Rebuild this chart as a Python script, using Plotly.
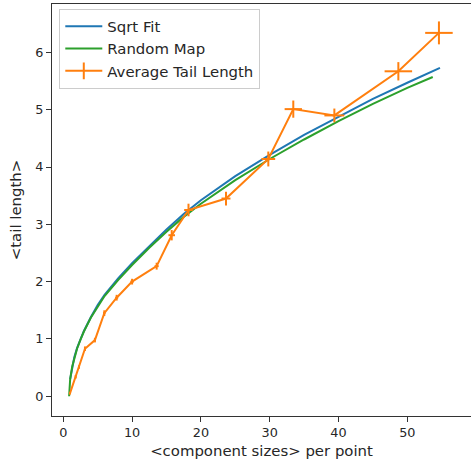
import plotly.graph_objects as go

# Sqrt fit curve
fit_x = [1.0, 1.3, 1.6, 2, 2.5, 3, 4, 5, 6, 8, 10, 12.5, 15, 17.5, 20, 25, 30, 35, 40, 45, 50, 54.75]
fit_y = [0.30, 0.52, 0.68, 0.84, 1.00, 1.14, 1.38, 1.59, 1.77, 2.06, 2.32, 2.62, 2.91, 3.18, 3.42, 3.84, 4.21, 4.56, 4.88, 5.19, 5.47, 5.73]

# Random map curve
rand_x = [0.85, 0.9, 1.0, 1.3, 1.6, 2, 2.5, 3, 4, 5, 6, 8, 10, 12.5, 15, 17.5, 20, 25, 30, 35, 40, 45, 50, 53.7]
rand_y = [0.0, 0.17, 0.30, 0.52, 0.67, 0.83, 0.99, 1.13, 1.37, 1.57, 1.75, 2.03, 2.29, 2.59, 2.87, 3.13, 3.36, 3.77, 4.14, 4.48, 4.80, 5.10, 5.38, 5.57]

# Average tail length with error bars
avg_x = [0.97, 1.8, 2.28, 3.15, 4.6, 5.96, 7.76, 10.0, 13.57, 15.76, 18.2, 23.65, 29.8, 33.43, 39.4, 48.7, 54.6]
avg_y = [0.05, 0.34, 0.51, 0.83, 0.98, 1.45, 1.72, 2.0, 2.27, 2.81, 3.25, 3.45, 4.14, 5.01, 4.90, 5.67, 6.34]
avg_xerr = [0.05, 0.08, 0.1, 0.12, 0.15, 0.18, 0.22, 0.25, 0.3, 0.48, 0.63, 0.65, 1.0, 1.26, 1.45, 2.0, 2.0]
avg_yerr = [0.02, 0.03, 0.03, 0.04, 0.04, 0.05, 0.05, 0.05, 0.06, 0.09, 0.11, 0.12, 0.13, 0.15, 0.12, 0.16, 0.20]

BLUE = "#1f77b4"
GREEN = "#2ca02c"
ORANGE = "#ff7f0e"
FONT = "DejaVu Sans"
TICK_SIZE = 12.8
LABEL_SIZE = 14.9

fig = go.Figure()
fig.add_trace(go.Scatter(x=fit_x, y=fit_y, mode="lines", name="Sqrt Fit",
                         line=dict(color=BLUE, width=2)))
fig.add_trace(go.Scatter(x=rand_x, y=rand_y, mode="lines", name="Random Map",
                         line=dict(color=GREEN, width=2)))
fig.add_trace(go.Scatter(x=avg_x, y=avg_y, mode="lines", name="Average Tail Length",
                         showlegend=False,
                         line=dict(color=ORANGE, width=2),
                         error_x=dict(type="data", array=avg_xerr, color=ORANGE, thickness=2, width=0),
                         error_y=dict(type="data", array=avg_yerr, color=ORANGE, thickness=2, width=0)))
fig.add_trace(go.Scatter(x=[None], y=[None], mode="lines+markers", name="Average Tail Length",
                         line=dict(color=ORANGE, width=2),
                         marker=dict(symbol="line-ns", size=12, line=dict(color=ORANGE, width=2))))

fig.update_layout(
    width=471, height=468,
    margin=dict(l=52, r=0, t=4, b=52),
    plot_bgcolor="white", paper_bgcolor="white",
    font=dict(family=FONT, size=TICK_SIZE, color="#262626"),
    showlegend=True,
    legend=dict(x=0.0174, y=0.988, xanchor="left", yanchor="top",
                bgcolor="rgba(255,255,255,0.8)", bordercolor="#cccccc", borderwidth=1,
                font=dict(family=FONT, size=LABEL_SIZE, color="#262626"),
                tracegroupgap=0, itemwidth=37),
    xaxis=dict(range=[-1.64, 59.26], tickvals=[0, 10, 20, 30, 40, 50], automargin=False,
               showgrid=False, zeroline=False, showline=True, linecolor="#333333", linewidth=1,
               mirror=True, ticks="outside", ticklen=5, tickcolor="#333333",
               tickfont=dict(family=FONT, size=TICK_SIZE),
               title=dict(text="&lt;component sizes&gt; per point", standoff=6,
                          font=dict(family=FONT, size=LABEL_SIZE))),
    yaxis=dict(range=[-0.344, 6.844], tickvals=[0, 1, 2, 3, 4, 5, 6], automargin=False,
               showgrid=False, zeroline=False, showline=True, linecolor="#333333", linewidth=1,
               mirror=False, ticks="outside", ticklen=5, tickcolor="#333333",
               tickfont=dict(family=FONT, size=TICK_SIZE),
               title=dict(text="&lt;tail length&gt;", standoff=10,
                          font=dict(family=FONT, size=LABEL_SIZE))),
)

fig.write_html("out.html", config={"displayModeBar": False},
               post_script="document.body.style.margin='0';document.body.style.overflow='hidden';")
